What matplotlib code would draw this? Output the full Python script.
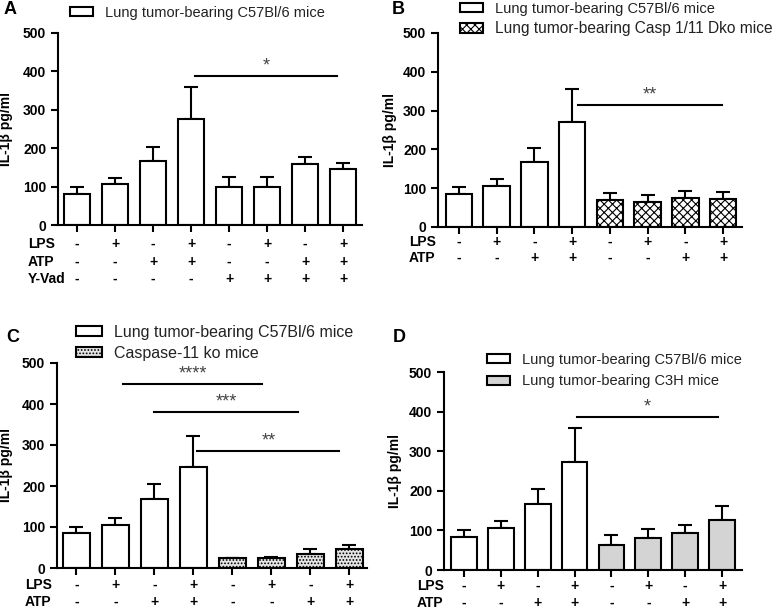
import matplotlib
matplotlib.use("Agg")
import matplotlib.pyplot as plt
from matplotlib.patches import Patch
import numpy as np

plt.rcParams['font.family'] = ['Liberation Sans', 'DejaVu Sans']
plt.rcParams['hatch.linewidth'] = 0.8

W, H = 775, 610

# conditions under the bars
lps = ['-', '+', '-', '+', '-', '+', '-', '+']
atp = ['-', '-', '+', '+', '-', '-', '+', '+']
yvad = ['-', '-', '-', '-', '+', '+', '+', '+']

# IL-1b means and upper SEM, pg/ml
a_mean = [82, 106, 167, 276, 100, 100, 158, 145]
a_err = [18, 16, 37, 84, 24, 24, 18, 16]

b_mean = [84, 106, 168, 271, 70, 65, 76, 72]
b_err = [18, 18, 35, 84, 17, 17, 17, 17]

c_mean = [85, 105, 168, 247, 24, 24, 34, 46]
c_err = [14, 18, 37, 75, 0, 4, 12, 10]

d_mean = [83, 107, 167, 272, 64, 81, 94, 127]
d_err = [17, 16, 38, 86, 24, 23, 19, 34]

# significance bars: (x from, x to, y, label)
a_sig = [(3.1, 6.85, 388, '*')]
b_sig = [(3.15, 6.98, 314, '**')]
c_sig = [(1.18, 4.77, 448, '****'), (2.0, 5.67, 380, '***'), (3.1, 6.74, 285, '**')]
d_sig = [(3.06, 6.88, 387, '*')]

fig = plt.figure(figsize=(W / 100, H / 100), dpi=100)


def px_axes(x0, x1, ytop, ybot):
    # axes box given in pixel coords of the 775x610 picture
    return fig.add_axes([x0 / W, 1 - ybot / H, (x1 - x0) / W, (ybot - ytop) / H])


def panel(ax, mean, err, styles, sig, rows, row_dy, label_px, ylab_px, x0px, wpx, xlim):
    x = np.arange(len(mean))
    for i in x:
        fc, hatch = styles[i]
        ax.bar(i, mean[i], width=0.7, facecolor=fc, edgecolor='black',
               linewidth=1.5, hatch=hatch, zorder=2)
    ax.errorbar(x, mean, yerr=[np.zeros(len(err)), err], fmt='none', ecolor='black',
                elinewidth=1.5, capsize=5, capthick=1.5, zorder=1)
    for s in sig:
        ax.plot([s[0], s[1]], [s[2], s[2]], color='black', lw=1.5, clip_on=False)
        ax.annotate(s[3], xy=((s[0] + s[1]) / 2, s[2]), xytext=(0, 1),
                    textcoords='offset points', ha='center', va='bottom',
                    fontsize=13, color='#444444', annotation_clip=False)
    ax.set_xlim(*xlim)
    ax.set_ylim(0, 500)
    ax.set_yticks(range(0, 501, 100))
    ax.set_xticks(x)
    ax.set_xticklabels([])
    for sp in ['top', 'right']:
        ax.spines[sp].set_visible(False)
    for sp in ['left', 'bottom']:
        ax.spines[sp].set_linewidth(1.5)
    ax.tick_params(width=1.5, length=5, labelsize=10)
    for t in ax.get_yticklabels():
        t.set_fontweight('bold')
    ax.set_ylabel('IL-1\u03b2 pg/ml', fontsize=10, fontweight='bold')
    ax.yaxis.set_label_coords((ylab_px - x0px) / wpx, 0.5)
    for (name, vals), dy in zip(rows, row_dy):
        ax.annotate(name, xy=(label_px / W, 0), xycoords=('figure fraction', 'axes fraction'),
                    xytext=(0, -dy * 0.72), textcoords='offset points', ha='left', va='center',
                    fontsize=10, fontweight='bold', annotation_clip=False)
        for i, v in enumerate(vals):
            ax.annotate(v, xy=(i, 0), xycoords=('data', 'axes fraction'),
                        xytext=(0, -dy * 0.72), textcoords='offset points', ha='center',
                        va='center', fontsize=10, fontweight='bold', annotation_clip=False)


def legend(ax, items, xpx, ypx, sizes, spacing=0.35):
    handles = [Patch(facecolor=fc, edgecolor='black', hatch=h, linewidth=1.5, label=l)
               for l, fc, h in items]
    lg = ax.legend(handles=handles, loc='upper left', bbox_to_anchor=(xpx / W, 1 - ypx / H),
                   bbox_transform=fig.transFigure, frameon=False, fontsize=sizes[0],
                   handlelength=1.6, handleheight=0.6, handletextpad=0.8,
                   labelspacing=spacing, borderpad=0, borderaxespad=0)
    for t, s in zip(lg.get_texts(), sizes):
        t.set_color('#222222')
        t.set_fontsize(s)


white = ('white', None)
dko = ('white', 'xxxx')
c11 = ('#e4e4e4', '.....')
c3h = ('#d4d4d4', None)

# A
axA = px_axes(58, 362, 33, 225)
panel(axA, a_mean, a_err, [white] * 8, a_sig,
      [('LPS', lps), ('ATP', atp), ('Y-Vad', yvad)], [19, 37, 54], 28, 13, 58, 304, (-0.5, 7.5))
legend(axA, [('Lung tumor-bearing C57Bl/6 mice', 'white', None)], 70, 6, [10.5])

# B
axB = px_axes(438, 742, 33, 227)
panel(axB, b_mean, b_err, [white] * 4 + [dko] * 4, b_sig,
      [('LPS', lps), ('ATP', atp)], [15, 31], 409, 397, 438, 304, (-0.55, 7.5))
legend(axB, [('Lung tumor-bearing C57Bl/6 mice', 'white', None),
             ('Lung tumor-bearing Casp 1/11 Dko mice', 'white', 'xxxx')], 460, 2, [10.5, 11.2])

# C
axC = px_axes(57, 367, 363, 568)
panel(axC, c_mean, c_err, [white] * 4 + [c11] * 4, c_sig,
      [('LPS', lps), ('ATP', atp)], [17, 34], 25, 13, 57, 310, (-0.5, 7.45))
legend(axC, [('Lung tumor-bearing C57Bl/6 mice', 'white', None),
             ('Caspase-11 ko mice', '#e4e4e4', '.....')], 76, 325, [11.5, 11.5])

# D
axD = px_axes(444, 742, 372, 570)
panel(axD, d_mean, d_err, [white] * 4 + [c3h] * 4, d_sig,
      [('LPS', lps), ('ATP', atp)], [16, 33], 417, 402, 444, 298, (-0.54, 7.54))
legend(axD, [('Lung tumor-bearing C57Bl/6 mice', 'white', None),
             ('Lung tumor-bearing C3H mice', '#d4d4d4', None)], 487, 353, [10.5, 10.5], 0.5)

for lab, xp, yp in [('A', 4, 10), ('B', 392, 10), ('C', 6, 337), ('D', 393, 337)]:
    fig.text(xp / W, 1 - yp / H, lab, fontsize=13, fontweight='bold', va='center', ha='left')

fig.savefig('out.png', dpi=100)
